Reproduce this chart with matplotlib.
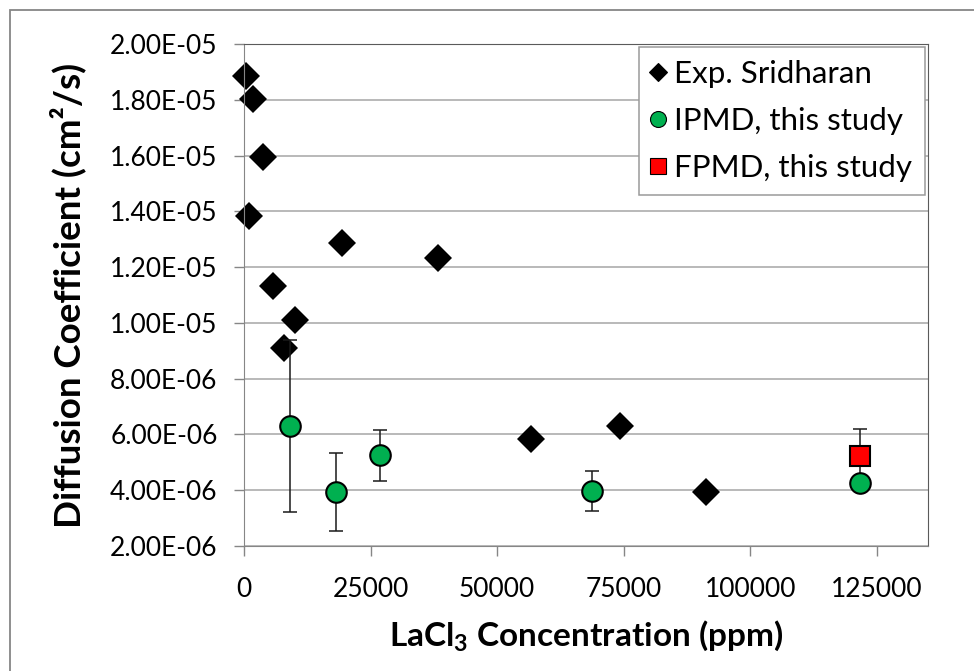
import matplotlib
matplotlib.use('Agg')
from matplotlib import pyplot as plt
from matplotlib.ticker import FuncFormatter, MultipleLocator
from matplotlib.patches import Rectangle

plt.rcParams['font.family'] = ['Lato', 'DejaVu Sans']
plt.rcParams['mathtext.fontset'] = 'custom'
plt.rcParams['mathtext.rm'] = 'Lato'
plt.rcParams['mathtext.bf'] = 'Lato:bold'

# Exp. Sridharan
exp_x = [400, 1840, 3820, 1050, 19440, 38300, 5800, 10090, 7980, 56700, 74200, 91170]
exp_y = [1.885e-05, 1.804e-05, 1.596e-05, 1.383e-05, 1.285e-05, 1.231e-05,
         1.132e-05, 1.012e-05, 9.09e-06, 5.82e-06, 6.30e-06, 3.95e-06]

# IPMD, this study
ipmd_x = [9160, 18200, 26960, 68770, 121700]
ipmd_y = [6.30e-06, 3.94e-06, 5.25e-06, 3.97e-06, 4.25e-06]
ipmd_err = [3.07e-06, 1.40e-06, 0.91e-06, 0.71e-06, 0.0]

# FPMD, this study
fpmd_x = [121700]
fpmd_y = [5.24e-06]
fpmd_err = [0.94e-06]

fig = plt.figure(figsize=(9.74, 6.71), dpi=100)
ax = fig.add_axes([244 / 974, 1 - 546 / 671, (927.5 - 244) / 974, (546 - 44) / 671])

# chart area border
fig.patches.append(Rectangle((10 / 974, -0.1), 1.0, 1 - 10 / 671 + 0.1, transform=fig.transFigure,
                             fill=False, edgecolor='#868686', lw=1.3, zorder=0))

ax.plot(exp_x, exp_y, 'D', color='black', ms=14.5, mew=0, zorder=2, clip_on=False,
        label='Exp. Sridharan')
ax.errorbar(ipmd_x, ipmd_y, yerr=ipmd_err, fmt='none', ecolor='#1a1a1a', elinewidth=1.1,
            capsize=5, capthick=1.1, zorder=3)
ax.errorbar(fpmd_x, fpmd_y, yerr=fpmd_err, fmt='none', ecolor='#1a1a1a', elinewidth=1.1,
            capsize=5, capthick=1.1, zorder=3)
ax.plot(ipmd_x, ipmd_y, 'o', color='#00B050', mec='black', mew=1.5, ms=14.8, zorder=4,
        label='IPMD, this study')
ax.plot(fpmd_x, fpmd_y, 's', color='#FF0000', mec='black', mew=1.5, ms=14, zorder=5,
        label='FPMD, this study')

ax.set_xlim(0, 135000)
ax.set_ylim(2e-06, 2e-05)
ax.xaxis.set_major_locator(MultipleLocator(25000))
ax.yaxis.set_major_locator(MultipleLocator(2e-06))
ax.yaxis.set_major_formatter(FuncFormatter(lambda v, p: '%.2E' % v))
ax.grid(axis='y', color='#A6A6A6', lw=1.1)
ax.set_axisbelow(True)

for s in ['left', 'bottom']:
    ax.spines[s].set_color('#868686')
for s in ['top', 'right']:
    ax.spines[s].set_color('#5a5a5a')
ax.tick_params(axis='both', direction='out', length=7, width=1, color='#868686',
               labelsize=19)
ax.tick_params(axis='y', pad=12)
ax.tick_params(axis='x', pad=15)

ax.set_xlabel(r'LaCl$_\mathbf{3}$ Concentration (ppm)', fontsize=24, fontweight='bold', labelpad=12)
ax.set_ylabel('Diffusion Coefficient (cm²/s)', fontsize=26.5, fontweight='bold', labelpad=17)

leg = ax.legend(loc='upper right', bbox_to_anchor=(925 / 974, 1 - 47 / 671),
                bbox_transform=fig.transFigure, fontsize=22.5,
                handlelength=0.45, handletextpad=0.3, labelspacing=0.62, borderpad=0.4,
                borderaxespad=0, fancybox=False, framealpha=1, edgecolor='#9a9a9a')
leg.get_frame().set_linewidth(1.1)
for h, ms in zip(leg.legend_handles, [9.5, 11.5, 11.5]):
    h.set_markersize(ms)
    h.set_markeredgewidth(0.8)

fig.savefig('out.png', dpi=100)
